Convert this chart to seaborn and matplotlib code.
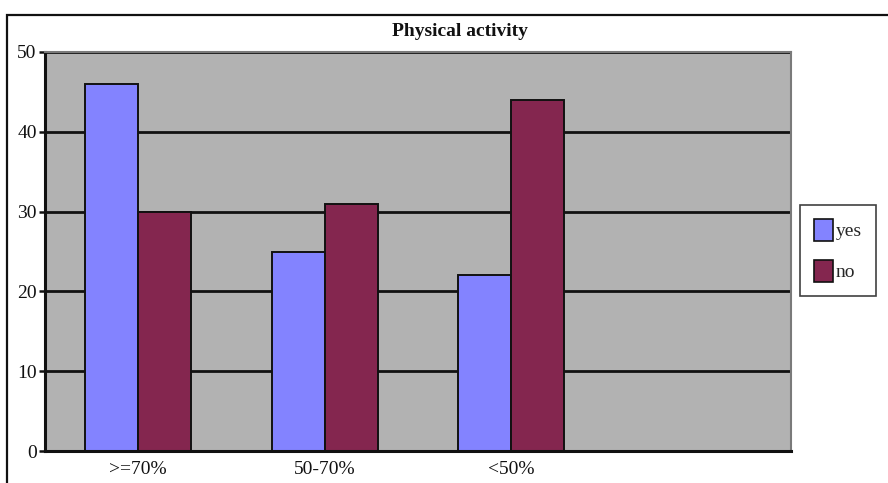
import matplotlib
matplotlib.use("Agg")
import matplotlib.pyplot as plt
from matplotlib.patches import Rectangle
import seaborn as sns
import pandas as pd

# Survey counts by share of physically active days
categories = [">=70%", "50-70%", "<50%"]
yes_counts = [46, 25, 22]
no_counts = [30, 31, 44]
series_names = ["yes", "no"]
y_ticks = [0, 10, 20, 30, 40, 50]

df = pd.DataFrame({
    "category": categories * 2,
    "answer": [series_names[0]] * len(categories) + [series_names[1]] * len(categories),
    "count": yes_counts + no_counts,
})

sns.set_theme(style="white")
plt.rcParams["font.family"] = ["Liberation Serif", "DejaVu Serif"]

W, H = 888, 483
fig = plt.figure(figsize=(W / 100, H / 100), dpi=100)
ax = fig.add_axes([45 / W, 1 - 451 / H, (791 - 45) / W, (451 - 52) / H])

palette = {"yes": "#8383FF", "no": "#84264F"}
sns.barplot(data=df, x="category", y="count", hue="answer", order=categories,
            hue_order=series_names, palette=palette, width=0.57, saturation=1,
            edgecolor="#111111", linewidth=1.4, ax=ax, legend=False)

ax.set_facecolor("#B2B2B2")
ax.set_xlim(-0.5, 3.5)
ax.set_ylim(0, 50)
ax.set_yticks(y_ticks)
ax.set_yticklabels([str(t) for t in y_ticks], fontsize=14, color="#111111")
ax.set_xticks(range(len(categories)))
ax.set_xticklabels(categories, fontsize=14, color="#111111")
ax.tick_params(axis="x", which="major", length=0, pad=7)
ax.set_xticks([0.5, 1.5, 2.5, 3.5], minor=True)
ax.tick_params(axis="x", which="minor", direction="in", length=8, width=1.8, color="#111111")
ax.tick_params(axis="y", which="major", direction="out", length=4, width=1.8, color="#111111", pad=2, left=True)
ax.set_xlabel("")
ax.set_ylabel("")

ax.set_axisbelow(True)
ax.yaxis.grid(True, color="#111111", linewidth=2)
ax.xaxis.grid(False)

for side in ["left", "bottom"]:
    ax.spines[side].set_color("#111111")
    ax.spines[side].set_linewidth(2.2)
for side in ["top", "right"]:
    ax.spines[side].set_color("#7A7A7A")
    ax.spines[side].set_linewidth(1.5)

fig.text(460 / W, 1 - 32 / H, "Physical activity", ha="center", va="center",
         fontsize=14, fontweight="bold", color="#111111")

# Outer chart frame (runs past the right and bottom edges)
fig.patches.append(Rectangle((7 / W, -0.2), 1.2, 1.2 - 15 / H, transform=fig.transFigure,
                             fill=False, edgecolor="#111111", linewidth=1.6))

handles = [Rectangle((0, 0), 1, 1, facecolor=palette[n], edgecolor="#111111", linewidth=1.2)
           for n in series_names]
leg = fig.legend(handles, series_names, loc="upper left",
                 bbox_to_anchor=(800 / W, 1 - 205 / H), frameon=True, fontsize=14,
                 handlelength=1.0, handleheight=1.4, handletextpad=0.15,
                 labelspacing=0.95, borderpad=0.7, borderaxespad=0, fancybox=False)
leg.get_frame().set_edgecolor("#111111")
leg.get_frame().set_linewidth(1.2)

fig.savefig("out.png", dpi=100)
